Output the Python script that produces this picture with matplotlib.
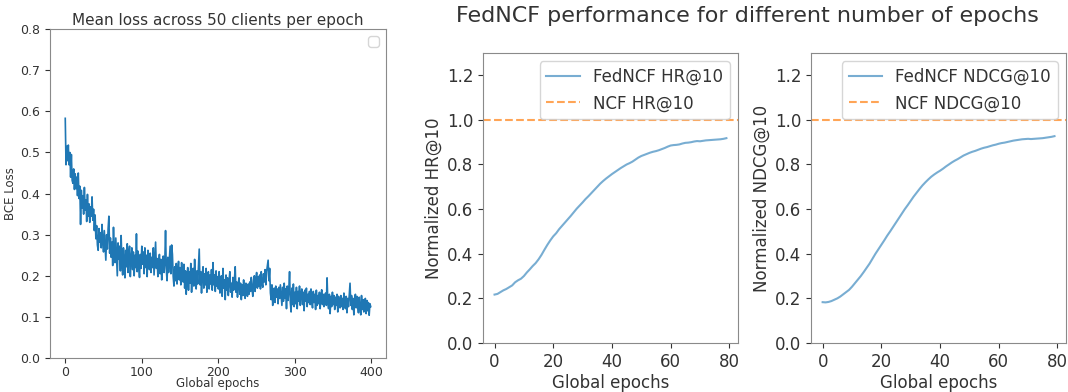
import matplotlib
matplotlib.use("Agg")
import matplotlib.pyplot as plt
import numpy as np

# mean BCE loss per global epoch
loss = [
    0.583, 0.470, 0.515, 0.480, 0.518, 0.470, 0.500, 0.440, 0.495, 0.432, 0.425, 0.460, 0.410, 0.448, 0.412, 0.440, 0.395, 0.450, 0.388, 0.418,
    0.325, 0.408, 0.365, 0.395, 0.350, 0.415, 0.360, 0.385, 0.332, 0.398, 0.345, 0.375, 0.330, 0.368, 0.345, 0.392, 0.335, 0.362, 0.310, 0.348,
    0.290, 0.322, 0.275, 0.262, 0.315, 0.282, 0.305, 0.268, 0.325, 0.285, 0.258, 0.310, 0.275, 0.238, 0.300, 0.265, 0.315, 0.345, 0.255, 0.292,
    0.245, 0.282, 0.225, 0.318, 0.255, 0.232, 0.292, 0.248, 0.200, 0.280, 0.240, 0.272, 0.212, 0.298, 0.230, 0.202, 0.268, 0.238, 0.195, 0.262,
    0.222, 0.278, 0.208, 0.252, 0.272, 0.198, 0.242, 0.268, 0.215, 0.258, 0.200, 0.250, 0.220, 0.302, 0.210, 0.260, 0.225, 0.196, 0.252, 0.218,
    0.272, 0.228, 0.258, 0.205, 0.268, 0.220, 0.250, 0.198, 0.262, 0.232, 0.215, 0.255, 0.208, 0.245, 0.220, 0.268, 0.202, 0.240, 0.282, 0.218,
    0.242, 0.198, 0.228, 0.252, 0.205, 0.240, 0.190, 0.225, 0.248, 0.208, 0.232, 0.310, 0.215, 0.188, 0.245, 0.208, 0.238, 0.272, 0.205, 0.275,
    0.252, 0.198, 0.175, 0.222, 0.188, 0.230, 0.180, 0.215, 0.235, 0.190, 0.220, 0.178, 0.232, 0.195, 0.185, 0.228, 0.170, 0.212, 0.155, 0.200,
    0.220, 0.165, 0.210, 0.182, 0.230, 0.160, 0.202, 0.218, 0.175, 0.240, 0.188, 0.168, 0.212, 0.180, 0.225, 0.265, 0.178, 0.210, 0.158, 0.202,
    0.222, 0.170, 0.205, 0.178, 0.218, 0.160, 0.200, 0.210, 0.168, 0.202, 0.180, 0.215, 0.165, 0.232, 0.178, 0.202, 0.162, 0.212, 0.175, 0.198,
    0.168, 0.210, 0.158, 0.192, 0.200, 0.150, 0.218, 0.170, 0.190, 0.142, 0.202, 0.165, 0.195, 0.152, 0.188, 0.210, 0.160, 0.182, 0.148, 0.196,
    0.165, 0.190, 0.222, 0.160, 0.185, 0.148, 0.180, 0.195, 0.155, 0.182, 0.142, 0.178, 0.152, 0.190, 0.158, 0.145, 0.182, 0.162, 0.150, 0.180,
    0.155, 0.185, 0.162, 0.196, 0.168, 0.150, 0.190, 0.200, 0.162, 0.192, 0.208, 0.170, 0.198, 0.175, 0.202, 0.168, 0.210, 0.182, 0.172, 0.205,
    0.185, 0.215, 0.178, 0.210, 0.225, 0.238, 0.188, 0.218, 0.158, 0.142, 0.178, 0.128, 0.162, 0.170, 0.135, 0.175, 0.148, 0.168, 0.132, 0.172,
    0.145, 0.178, 0.152, 0.128, 0.172, 0.138, 0.182, 0.145, 0.168, 0.120, 0.175, 0.140, 0.165, 0.210, 0.135, 0.112, 0.170, 0.130, 0.180, 0.125,
    0.160, 0.132, 0.172, 0.120, 0.162, 0.138, 0.175, 0.128, 0.155, 0.168, 0.130, 0.160, 0.115, 0.165, 0.138, 0.170, 0.125, 0.155, 0.135, 0.162,
    0.130, 0.168, 0.138, 0.122, 0.162, 0.135, 0.155, 0.118, 0.165, 0.128, 0.152, 0.132, 0.160, 0.120, 0.150, 0.166, 0.130, 0.155, 0.125, 0.150,
    0.158, 0.128, 0.195, 0.135, 0.120, 0.155, 0.108, 0.150, 0.125, 0.160, 0.130, 0.152, 0.118, 0.148, 0.128, 0.155, 0.112, 0.150, 0.130, 0.122,
    0.152, 0.125, 0.145, 0.118, 0.158, 0.130, 0.120, 0.150, 0.110, 0.145, 0.125, 0.155, 0.182, 0.128, 0.152, 0.118, 0.145, 0.105, 0.142, 0.155,
    0.122, 0.150, 0.128, 0.110, 0.148, 0.124, 0.105, 0.152, 0.118, 0.142, 0.112, 0.138, 0.145, 0.108, 0.140, 0.115, 0.135, 0.104, 0.132, 0.125,
]

# normalized HR@10 of FedNCF per epoch
hr = [
    0.217, 0.220, 0.228, 0.236, 0.242, 0.250, 0.258, 0.272, 0.281, 0.288,
    0.300, 0.316, 0.330, 0.345, 0.358, 0.375, 0.395, 0.418, 0.440, 0.460,
    0.478, 0.492, 0.510, 0.525, 0.540, 0.555, 0.570, 0.586, 0.602, 0.616,
    0.630, 0.645, 0.658, 0.672, 0.686, 0.700, 0.714, 0.726, 0.737, 0.747,
    0.757, 0.766, 0.775, 0.784, 0.792, 0.800, 0.806, 0.813, 0.822, 0.831,
    0.838, 0.843, 0.848, 0.853, 0.857, 0.860, 0.864, 0.869, 0.874, 0.880,
    0.885, 0.887, 0.888, 0.890, 0.894, 0.897, 0.898, 0.900, 0.903, 0.905,
    0.904, 0.906, 0.908, 0.909, 0.910, 0.911, 0.912, 0.913, 0.915, 0.918,
]

# normalized NDCG@10 of FedNCF per epoch
ndcg = [
    0.183, 0.182, 0.184, 0.188, 0.194, 0.200, 0.208, 0.218, 0.228, 0.238,
    0.252, 0.268, 0.284, 0.300, 0.318, 0.337, 0.356, 0.378, 0.400, 0.420,
    0.440, 0.460, 0.481, 0.500, 0.520, 0.540, 0.560, 0.580, 0.600, 0.618,
    0.637, 0.656, 0.673, 0.690, 0.706, 0.720, 0.733, 0.745, 0.755, 0.764,
    0.772, 0.781, 0.791, 0.800, 0.809, 0.817, 0.824, 0.832, 0.840, 0.846,
    0.852, 0.857, 0.861, 0.866, 0.871, 0.875, 0.878, 0.882, 0.886, 0.889,
    0.893, 0.896, 0.898, 0.901, 0.904, 0.907, 0.909, 0.911, 0.913, 0.914,
    0.915, 0.914, 0.915, 0.916, 0.917, 0.918, 0.920, 0.922, 0.924, 0.927,
]

ncf_baseline = 1.0

plt.rcParams['text.color'] = '#333333'
plt.rcParams['axes.labelcolor'] = '#333333'
plt.rcParams['xtick.color'] = '#333333'
plt.rcParams['ytick.color'] = '#333333'
plt.rcParams['axes.edgecolor'] = '#8a8a8a'

fig = plt.figure(figsize=(10.68, 3.92), dpi=100)

# left: loss curve
ax0 = fig.add_axes([0.0468, 0.0867, 0.3146, 0.839])
ax0.plot(np.arange(len(loss)), loss, color='C0', lw=1.2)
ax0.set_ylim(0, 0.8)
ax0.set_xticks([0, 100, 200, 300, 400])
ax0.set_title("Mean loss across 50 clients per epoch", fontsize=11, pad=3)
ax0.set_xlabel("Global epochs", fontsize=8.5, labelpad=-1)
ax0.set_ylabel("BCE Loss", fontsize=8.5, labelpad=2)
ax0.tick_params(labelsize=9)
ax0.tick_params(axis='x', pad=2)
ax0.legend(handles=[], loc='upper right')

# right: two metric panels
epochs = np.arange(len(hr))
panels = [("HR@10", hr, 0.4522), ("NDCG@10", ndcg, 0.7594)]
for name, vals, left in panels:
    ax = fig.add_axes([left, 0.125, 0.2388, 0.740])
    ax.plot(epochs, vals, color='C0', alpha=0.6, lw=1.5, label="FedNCF " + name)
    ax.axhline(ncf_baseline, color='C1', ls='--', alpha=0.7, lw=1.5, label="NCF " + name)
    ax.set_ylim(0, 1.3)
    ax.set_xticks([0, 20, 40, 60, 80])
    ax.set_yticks([0.0, 0.2, 0.4, 0.6, 0.8, 1.0, 1.2])
    ax.set_xlabel("Global epochs", fontsize=12, labelpad=2)
    ax.set_ylabel("Normalized " + name, fontsize=12, labelpad=3)
    ax.tick_params(labelsize=12)
    ax.legend(loc='upper right', fontsize=12)

fig.text(0.70, 0.96, "FedNCF performance for different number of epochs",
         ha='center', va='center', fontsize=16)

fig.savefig("out.png", dpi=100)
